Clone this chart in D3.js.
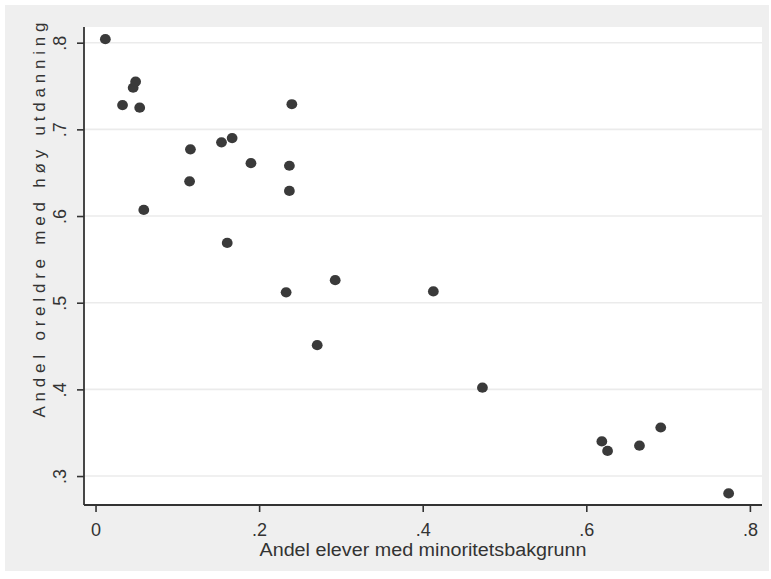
<!DOCTYPE html>
<html>
<head>
<meta charset="utf-8">
<script src="https://cdn.jsdelivr.net/npm/d3@7"></script>
<style>
  html, body { margin: 0; padding: 0; background: #ffffff; }
  svg { display: block; }
  text { font-family: "Liberation Sans", Arial, sans-serif; fill: #333; }
</style>
</head>
<body>
<svg id="chart" width="771" height="579"></svg>
<script>
// Data: share of pupils with minority background (x) vs share of parents with higher education (y)
const minorityShare = [0.012, 0.033, 0.046, 0.049, 0.054, 0.059, 0.116, 0.115, 0.154, 0.167, 0.161, 0.190,
  0.237, 0.237, 0.240, 0.233, 0.293, 0.271, 0.413, 0.473, 0.619, 0.626, 0.665, 0.691, 0.774];
const highEduShare = [0.804, 0.728, 0.748, 0.755, 0.725, 0.607, 0.677, 0.640, 0.685, 0.690, 0.569, 0.661,
  0.658, 0.629, 0.729, 0.512, 0.526, 0.451, 0.513, 0.402, 0.340, 0.329, 0.335, 0.356, 0.280];
const xTicks = [0, 0.2, 0.4, 0.6, 0.8];
const yTicks = [0.3, 0.4, 0.5, 0.6, 0.7, 0.8];
const xTickLabels = ["0", ".2", ".4", ".6", ".8"];
const yTickLabels = [".3", ".4", ".5", ".6", ".7", ".8"];
const xTitle = "Andel elever med minoritetsbakgrunn";
const yTitle = "Andel oreldre med høy utdanning";

const svg = d3.select("#chart");
const plot = { left: 84, right: 762, top: 27, bottom: 505 };

// outer gray panel
svg.append("rect").attr("x", 5).attr("y", 5).attr("width", 764).attr("height", 566).attr("fill", "#efefef");
// plot area
svg.append("rect").attr("x", plot.left).attr("y", plot.top)
  .attr("width", plot.right - plot.left).attr("height", plot.bottom - plot.top).attr("fill", "#ffffff");

const x = d3.scaleLinear().domain([-0.0141, 0.8148]).range([plot.left, plot.right]);
const y = d3.scaleLinear().domain([0.2666, 0.8181]).range([plot.bottom, plot.top]);

// gridlines
svg.append("g").selectAll("line").data(yTicks).join("line")
  .attr("x1", plot.left).attr("x2", plot.right)
  .attr("y1", d => y(d)).attr("y2", d => y(d))
  .attr("stroke", "#ebebeb").attr("stroke-width", 1.6);

// x axis
const xAxis = d3.axisBottom(x).tickValues(xTicks).tickFormat((d, i) => xTickLabels[i]).tickSize(7).tickPadding(11);
const gx = svg.append("g").attr("transform", `translate(0,${plot.bottom})`).call(xAxis);
gx.select(".domain").remove();
gx.selectAll(".tick line").attr("stroke", "#333").attr("stroke-width", 1.6);
gx.selectAll(".tick text").attr("font-size", 18).attr("fill", "#333").attr("dy", "0.71em")
  .attr("font-family", "'Liberation Sans', Arial, sans-serif");
svg.append("line").attr("x1", plot.left).attr("x2", plot.right)
  .attr("y1", plot.bottom).attr("y2", plot.bottom).attr("stroke", "#333").attr("stroke-width", 1.8);

// y axis
const yAxis = d3.axisLeft(y).tickValues(yTicks).tickFormat((d, i) => yTickLabels[i]).tickSize(7).tickPadding(4);
const gy = svg.append("g").attr("transform", `translate(${plot.left},0)`).call(yAxis);
gy.select(".domain").remove();
gy.selectAll(".tick line").attr("stroke", "#333").attr("stroke-width", 1.6);
gy.selectAll(".tick text").remove();
gy.selectAll(".tick").append("text")
  .attr("transform", "translate(-18,0) rotate(-90)")
  .attr("text-anchor", "middle")
  .attr("font-size", 18).attr("fill", "#333")
  .attr("font-family", "'Liberation Sans', Arial, sans-serif")
  .text((d, i) => yTickLabels[i]);
svg.append("line").attr("x1", plot.left).attr("x2", plot.left)
  .attr("y1", plot.top).attr("y2", plot.bottom).attr("stroke", "#333").attr("stroke-width", 1.8);

// points
svg.append("g").selectAll("ellipse").data(minorityShare.map((v, i) => [v, highEduShare[i]])).join("ellipse")
  .attr("cx", d => x(d[0])).attr("cy", d => y(d[1]))
  .attr("rx", 5.4).attr("ry", 5.1)
  .attr("fill", "#3a3a3a");

// axis titles
svg.append("text").attr("x", 423).attr("y", 556).attr("text-anchor", "middle")
  .attr("font-size", 18).attr("textLength", 327).attr("lengthAdjust", "spacingAndGlyphs")
  .text(xTitle);
svg.append("text").attr("transform", "translate(45,220) rotate(-90)").attr("text-anchor", "middle")
  .attr("font-size", 17).attr("textLength", 395).attr("lengthAdjust", "spacing")
  .text(yTitle);
</script>
</body>
</html>
